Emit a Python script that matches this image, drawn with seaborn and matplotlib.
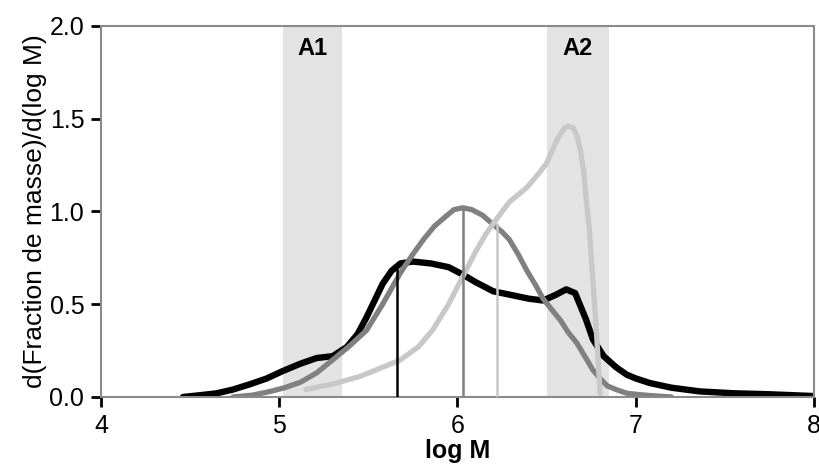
import matplotlib
matplotlib.use('Agg')
import matplotlib.pyplot as plt
import seaborn as sns

# curves
black_x = [4.46, 4.56, 4.65, 4.74, 4.84, 4.93, 5.02, 5.12, 5.21, 5.30, 5.38, 5.44, 5.49, 5.54,
           5.58, 5.63, 5.68, 5.75, 5.85, 5.95, 6.03, 6.10, 6.20, 6.30, 6.40, 6.48, 6.55, 6.61,
           6.66, 6.72, 6.76, 6.82, 6.89, 6.95, 7.00, 7.08, 7.20, 7.36, 7.55, 7.74, 8.00]
black_y = [0.0, 0.01, 0.02, 0.04, 0.07, 0.10, 0.14, 0.18, 0.21, 0.22, 0.27, 0.34, 0.43, 0.53,
           0.61, 0.68, 0.72, 0.73, 0.72, 0.70, 0.66, 0.62, 0.57, 0.55, 0.53, 0.52, 0.55, 0.58,
           0.56, 0.42, 0.31, 0.22, 0.16, 0.12, 0.10, 0.075, 0.05, 0.03, 0.02, 0.015, 0.005]

dark_x = [4.74, 4.85, 4.95, 5.03, 5.12, 5.21, 5.30, 5.40, 5.49, 5.58, 5.68, 5.75, 5.81, 5.87,
          5.93, 5.98, 6.03, 6.08, 6.14, 6.20, 6.25, 6.29, 6.34, 6.39, 6.44, 6.48, 6.53, 6.58,
          6.62, 6.67, 6.72, 6.76, 6.80, 6.84, 6.89, 6.95, 7.05, 7.20]
dark_y = [0.0, 0.01, 0.03, 0.05, 0.08, 0.13, 0.20, 0.28, 0.36, 0.50, 0.67, 0.77, 0.85, 0.92,
          0.97, 1.01, 1.02, 1.01, 0.98, 0.93, 0.89, 0.85, 0.77, 0.68, 0.60, 0.53, 0.47, 0.41,
          0.35, 0.29, 0.21, 0.145, 0.10, 0.06, 0.04, 0.02, 0.01, 0.0]

light_x = [5.15, 5.30, 5.45, 5.58, 5.68, 5.78, 5.86, 5.95, 6.03, 6.10, 6.16, 6.22, 6.29, 6.39,
           6.46, 6.50, 6.56, 6.60, 6.62, 6.65, 6.67, 6.69, 6.71, 6.72, 6.74, 6.76, 6.78, 6.80]
light_y = [0.04, 0.07, 0.11, 0.16, 0.20, 0.27, 0.36, 0.50, 0.65, 0.78, 0.88, 0.96, 1.05, 1.13,
           1.21, 1.26, 1.39, 1.45, 1.46, 1.45, 1.41, 1.33, 1.20, 1.08, 0.90, 0.62, 0.34, 0.02]

# average log M markers (position, height)
mark_x = [5.66, 6.03, 6.22]
mark_h = [0.72, 1.02, 0.94]
colors = ['#000000', '#808080', '#c8c8c8']

# shaded zones
zone_names = ['A1', 'A2']
zone_lo = [5.02, 6.50]
zone_hi = [5.35, 6.85]

sns.set_style('ticks')
plt.rcParams['font.family'] = ['Liberation Sans', 'DejaVu Sans']
plt.rcParams['text.color'] = 'black'
plt.rcParams['axes.labelcolor'] = 'black'
plt.rcParams['xtick.color'] = 'black'
plt.rcParams['ytick.color'] = 'black'
plt.rcParams['lines.solid_joinstyle'] = 'round'
plt.rcParams['lines.solid_capstyle'] = 'round'

fig = plt.figure(figsize=(8.19, 4.76), dpi=100)
ax = fig.add_axes([0.1233, 0.166, 0.8706, 0.7794])

for name, lo, hi in zip(zone_names, zone_lo, zone_hi):
    ax.axvspan(lo, hi, color='#e3e3e3', lw=0, zorder=0)
    ax.text((lo + hi) / 2, 1.88, name, ha='center', va='center',
            fontsize=17, fontweight='bold')

sns.lineplot(x=black_x, y=black_y, color=colors[0], lw=4.6, ax=ax, sort=False)
sns.lineplot(x=dark_x, y=dark_y, color=colors[1], lw=3.8, ax=ax, sort=False)
sns.lineplot(x=light_x, y=light_y, color=colors[2], lw=3.8, ax=ax, sort=False)

for x, h, c in zip(mark_x, mark_h, colors):
    ax.vlines(x, 0, h, color=c, lw=1.8, zorder=3)

ax.set_xlim(4, 8)
ax.set_ylim(0, 2.0)
ax.set_xticks([4, 5, 6, 7, 8])
ax.set_xticklabels(['4', '5', '6', '7', '8'])
ax.set_yticks([0, 0.5, 1.0, 1.5, 2.0])
ax.set_yticklabels(['0.0', '0.5', '1.0', '1.5', '2.0'])
ax.tick_params(axis='both', direction='out', length=7, width=2, color='black',
               labelsize=18, pad=5)

for side in ['left', 'right', 'top', 'bottom']:
    ax.spines[side].set_visible(True)
    ax.spines[side].set_color('#8a8a8a')
    ax.spines[side].set_linewidth(1.5)

ax.set_xlabel('log M', fontsize=18, fontweight='bold', labelpad=1)
ax.set_ylabel('d(Fraction de masse)/d(log M)', fontsize=19, labelpad=2)

fig.savefig('out.png', dpi=100)
